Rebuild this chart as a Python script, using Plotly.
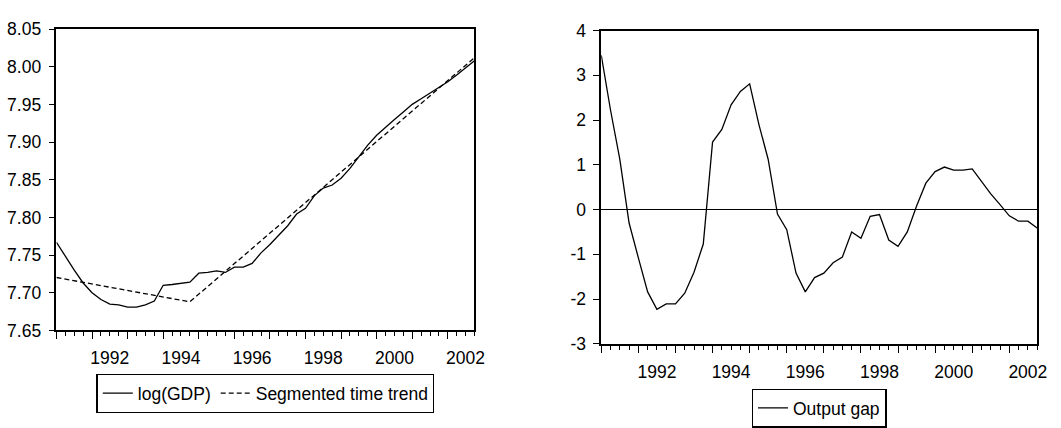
import plotly.graph_objects as go

# Quarterly sample 1991Q1 - 2002Q4
quarters = [f"{y}Q{q}" for y in range(1991, 2003) for q in range(1, 5)]

log_gdp = [
    7.767, 7.748, 7.730, 7.713, 7.700, 7.691, 7.685, 7.684,
    7.681, 7.681, 7.684, 7.689, 7.710, 7.711, 7.713, 7.714,
    7.726, 7.727, 7.729, 7.727, 7.734, 7.734, 7.739, 7.753,
    7.764, 7.776, 7.789, 7.8045, 7.812, 7.829, 7.839, 7.843,
    7.852, 7.865, 7.881, 7.896, 7.909, 7.920, 7.930, 7.940,
    7.950, 7.9575, 7.965, 7.9725, 7.980, 7.989, 7.999, 8.008,
]

# Segmented trend: break points (start, break, end)
trend_periods = ["1991Q1", "1994Q4", "2002Q4"]
trend_values = [7.7203, 7.688, 8.012]

output_gap = [
    3.45, 2.22, 1.12, -0.30, -1.08, -1.84, -2.23, -2.11,
    -2.11, -1.87, -1.40, -0.77, 1.51, 1.79, 2.34, 2.64,
    2.81, 1.90, 1.12, -0.10, -0.45, -1.42, -1.84, -1.52,
    -1.42, -1.19, -1.06, -0.50, -0.64, -0.15, -0.11, -0.68,
    -0.82, -0.50, 0.08, 0.59, 0.85, 0.95, 0.88, 0.88,
    0.91, 0.62, 0.35, 0.11, -0.14, -0.26, -0.26, -0.41,
]

year_labels = ["1992", "1994", "1996", "1998", "2000", "2002"]
left_yticks = [7.65, 7.70, 7.75, 7.80, 7.85, 7.90, 7.95, 8.00, 8.05]
right_yticks = [-3, -2, -1, 0, 1, 2, 3, 4]


def to_x(period):
    """Quarter string -> fractional year (Q1 sits on the year boundary)."""
    y, q = period.split("Q")
    return int(y) + (int(q) - 1) / 4


xq = [to_x(p) for p in quarters]
x_range = [xq[0], xq[-1]]

W, H = 1061, 428
FONT = "Arial, Liberation Sans, sans-serif"
FS = 17.5
LW = 1.3


def px_x(a, b):
    return [a / W, b / W]


def px_y(top, bottom):
    return [1 - bottom / H, 1 - top / H]


fig = go.Figure()

fig.add_trace(go.Scatter(
    x=xq, y=log_gdp, mode="lines", name="log(GDP)",
    line=dict(color="black", width=LW), xaxis="x", yaxis="y", legend="legend",
))
fig.add_trace(go.Scatter(
    x=[to_x(p) for p in trend_periods], y=trend_values, mode="lines",
    name="Segmented time trend",
    line=dict(color="black", width=LW, dash="5px,3px"),
    xaxis="x", yaxis="y", legend="legend",
))
fig.add_trace(go.Scatter(
    x=xq, y=output_gap, mode="lines", name="Output gap",
    line=dict(color="black", width=LW), xaxis="x2", yaxis="y2", legend="legend2",
))
# empty carriers for the year-label axes
for xa, ya in (("x3", "y"), ("x4", "y2")):
    fig.add_trace(go.Scatter(x=[], y=[], xaxis=xa, yaxis=ya, showlegend=False,
                             hoverinfo="skip"))

years = list(range(1991, 2003))
label_pos = [int(t) + 0.5 for t in year_labels]

tick_font = dict(family=FONT, size=FS, color="black")


def base_x(domain):
    return dict(
        domain=domain, range=x_range, showgrid=False, zeroline=False,
        showline=True, mirror=True, linecolor="black", linewidth=1.6,
        tickvals=years, ticktext=[""] * len(years), ticks="outside",
        ticklen=7, tickwidth=1.3, tickcolor="black",
        minor=dict(dtick=0.25, tick0=1991, ticks="outside", ticklen=4,
                   tickwidth=1.3, tickcolor="black", showgrid=False),
        fixedrange=True,
    )


def label_x(over, anchor):
    return dict(
        overlaying=over, anchor=anchor, side="bottom", range=x_range,
        showgrid=False, zeroline=False, showline=False,
        tickvals=label_pos, ticktext=year_labels, ticks="outside",
        ticklen=12, tickcolor="rgba(0,0,0,0)", tickfont=tick_font,
        fixedrange=True,
    )


def base_y(domain, rng, vals, text, zero):
    return dict(
        domain=domain, range=rng, showgrid=False, zeroline=zero,
        zerolinecolor="black", zerolinewidth=1.3,
        showline=True, mirror=True, linecolor="black", linewidth=1.6,
        tickvals=vals, ticktext=text, ticks="outside", ticklen=6,
        tickwidth=1.3, tickcolor="black", tickfont=tick_font,
        ticklabelstandoff=4, fixedrange=True,
    )


legend_style = dict(
    orientation="h", xanchor="center", yanchor="top",
    bordercolor="black", borderwidth=1.3, bgcolor="white",
    font=dict(family=FONT, size=FS, color="black"),
)

fig.update_layout(
    width=W, height=H,
    margin=dict(l=0, r=0, t=0, b=0),
    paper_bgcolor="white", plot_bgcolor="white",
    font=dict(family=FONT, size=FS, color="black"),
    xaxis=dict(base_x(px_x(57, 479)), anchor="y"),
    yaxis=dict(base_y(px_y(20, 337), [7.65, 8.05], left_yticks,
                      [f"{v:.2f}" for v in left_yticks], False), anchor="x"),
    xaxis2=dict(base_x(px_x(607, 1047)), anchor="y2"),
    yaxis2=dict(base_y(px_y(21.7, 351), [-3, 4], right_yticks,
                       [str(v) for v in right_yticks], True), anchor="x2"),
    xaxis3=label_x("x", "y"),
    xaxis4=label_x("x2", "y2"),
    legend=dict(legend_style, x=268 / W, y=1 - 382.7 / H),
    legend2=dict(legend_style, x=827 / W, y=1 - 398.3 / H),
    showlegend=True,
)

fig.write_html("out.html")
